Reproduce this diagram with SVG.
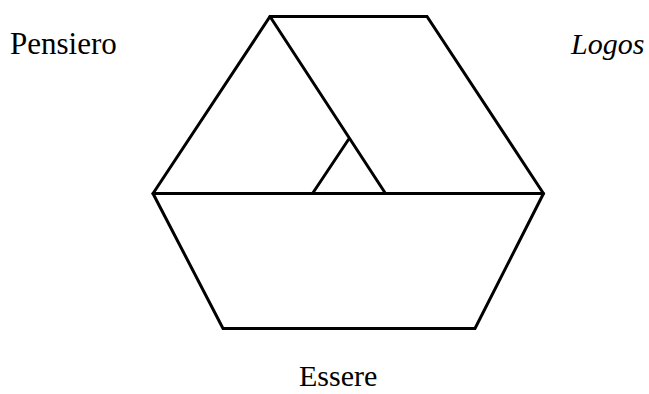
<svg xmlns="http://www.w3.org/2000/svg" width="649" height="394" viewBox="0 0 649 394">
<style>
.ln{stroke:#000;stroke-width:3;fill:none;stroke-linejoin:miter;stroke-linecap:round}
text{font-family:"Liberation Serif","Times New Roman",serif;font-size:31px;fill:#000}
</style>
<rect width="649" height="394" fill="#fff"/>
<g id="connectors">
<polygon class="ln" points="270,16.5 427,16.5 543.5,193.5 475,328.5 223,328.5 153,193.5"/>
<line class="ln" x1="153" y1="193.5" x2="543.5" y2="193.5"/>
<line class="ln" x1="270" y1="16.5" x2="385.5" y2="193.5"/>
<line class="ln" x1="312.5" y1="193.5" x2="348.5" y2="139.5"/>
</g>
<g id="pensiero"><text x="10" y="54">Pensiero</text></g>
<g id="logos"><text x="571" y="54" font-style="italic" style="font-size:30px">Logos</text></g>
<g id="essere"><text x="299" y="386" style="font-size:30px">Essere</text></g>
</svg>
